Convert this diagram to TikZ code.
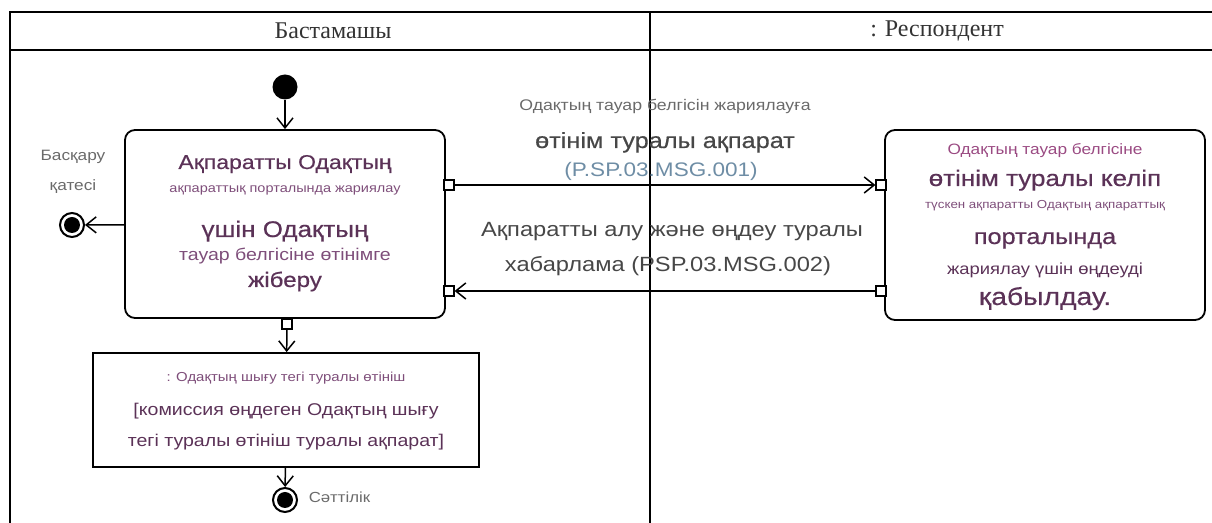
\documentclass[tikz,border=0pt]{standalone}
\usepackage{fontspec}
\setmainfont{Liberation Sans}[FakeStretch=1.15]
\newfontfamily\heavyfont{Liberation Sans}[FakeStretch=1.15, FakeBold=0.5]
\newfontfamily\lanefont{Liberation Serif}
\usetikzlibrary{arrows.meta}

\definecolor{actdark}{HTML}{5B3257}
\definecolor{actlight}{HTML}{7E4E7A}
\definecolor{actpink}{HTML}{9A4A82}
\definecolor{labeldark}{HTML}{474747}
\definecolor{labellight}{HTML}{6A6A6A}
\definecolor{msgblue}{HTML}{6E8DA5}
\newcommand{\fsz}[1]{\fontsize{#1}{#1}\selectfont}

\begin{document}
\begin{tikzpicture}[x=0.5pt, y=-0.5pt, line width=0.75pt, >={Straight Barb[length=5pt,width=8pt]}]
    % Define styles
    \tikzstyle{action} = [draw, rectangle, rounded corners=5pt, line width=0.9pt, minimum width=160pt, minimum height=94pt]
    \tikzstyle{object} = [draw, rectangle, line width=0.9pt, minimum width=193pt, minimum height=57pt]
    \tikzstyle{pin} = [draw, rectangle, fill=white, minimum size=5pt, inner sep=0pt, line width=0.6pt]
    \tikzstyle{initial} = [circle, fill=black, minimum size=12.5pt, inner sep=0pt]
    \tikzstyle{final} = [circle, draw, line width=1pt, minimum size=12pt, inner sep=0pt, path picture={\fill (path picture bounding box.center) circle (4pt);}]
    \tikzstyle{txt} = [inner sep=0pt, anchor=base]

    \useasboundingbox (0,0) rectangle (1212,523);

    % Swimlanes
    \draw[line width=0.9pt] (1212,12) -- (10,12) -- (10,523);
    \draw[line width=0.9pt] (10,50) -- (1212,50);
    \draw[line width=0.9pt] (650,12) -- (650,523);
    \node[font=\lanefont\fsz{12}, text=black!80] (laneA) at (333,31) {Бастамашы};
    \node[font=\lanefont\fsz{12}, text=black!80] (laneB) at (937,31) {: Респондент};

    % Nodes
    \node[initial] (start) at (285,87) {};
    \node[action] (publish) at (285,224) {};
    \node[txt, font=\heavyfont\fsz{10}, text=actdark] (pub1) at (285,169) {Ақпаратты Одақтың};
    \node[txt, font=\fsz{6.3}, text=actlight] (pub2) at (285,193) {ақпараттық порталында жариялау};
    \node[txt, font=\heavyfont\fsz{11.3}, text=actdark] (pub3) at (285,237) {үшін Одақтың};
    \node[txt, font=\fsz{8.5}, text=actlight] (pub4) at (285,261) {тауар белгісіне өтінімге};
    \node[txt, font=\heavyfont\fsz{10.5}, text=actdark] (pub5) at (285,287) {жіберу};

    \node[action, minimum height=95pt] (accept) at (1045,225) {};
    \node[txt, font=\fsz{7.5}, text=actpink] (acc1) at (1045,155) {Одақтың тауар белгісіне};
    \node[txt, font=\heavyfont\fsz{11.3}, text=actdark] (acc2) at (1045,186) {өтінім туралы келіп};
    \node[txt, font=\fsz{5.8}, text=actlight] (acc3) at (1045,209) {түскен ақпаратты Одақтың ақпараттық};
    \node[txt, font=\heavyfont\fsz{11}, text=actdark] (acc4) at (1045,244) {порталында};
    \node[txt, font=\fsz{8}, text=actdark] (acc5) at (1045,275) {жариялау үшін өңдеуді};
    \node[txt, font=\heavyfont\fsz{12.3}, text=actdark] (acc6) at (1045,305) {қабылдау.};

    \node[final] (errorEnd) at (72,225) {};
    \node[txt, font=\fsz{7.5}, text=labellight] (err1) at (73,161) {Басқару};
    \node[txt, font=\fsz{7.5}, text=labellight] (err2) at (73,191) {қатесі};

    \node[object] (appObj) at (286,410) {};
    \node[txt, font=\fsz{6.5}, text=actlight] (obj1) at (286,382) {: Одақтың шығу тегі туралы өтініш};
    \node[txt, font=\fsz{8.5}, text=actdark] (obj2) at (286,416) {[комиссия өңдеген Одақтың шығу};
    \node[txt, font=\fsz{8.5}, text=actdark] (obj3) at (286,447) {тегі туралы өтініш туралы ақпарат]};

    \node[final] (successEnd) at (285,500) {};
    \node[txt, font=\fsz{7.3}, text=labellight, anchor=base west] (succ) at (308,503) {Сәттілік};

    % Pins
    \node[pin] (outPin) at (449,185) {};
    \node[pin] (inPin) at (449,291) {};
    \node[pin] (reqPin) at (881,185) {};
    \node[pin] (ackPin) at (881,291) {};
    \node[pin] (objPin) at (287,324) {};

    % Message labels
    \node[txt, font=\fsz{7.7}, text=labellight] (req1) at (665,111) {Одақтың тауар белгісін жариялауға};
    \node[txt, font=\heavyfont\fsz{11}, text=labeldark] (req2) at (665,148) {өтінім туралы ақпарат};
    \node[txt, font=\fsz{9.8}, text=msgblue] (req3) at (661,177) {(P.SP.03.MSG.001)};
    \node[txt, font=\fsz{10.3}, text=labeldark] (ack1) at (672,237) {Ақпаратты алу және өңдеу туралы};
    \node[txt, font=\fsz{10.3}, text=labeldark] (ack2) at (668,272) {хабарлама (PSP.03.MSG.002)};

    % Flow arrows
    \draw[->] (start) -- (publish);
    \draw[->] (publish) -- (errorEnd);
    \draw[->] (outPin) -- (reqPin);
    \draw[->] (ackPin) -- (inPin);
    \draw[->] (objPin) -- (appObj);
    \draw[->] (appObj) -- (successEnd);
\end{tikzpicture}
\end{document}
